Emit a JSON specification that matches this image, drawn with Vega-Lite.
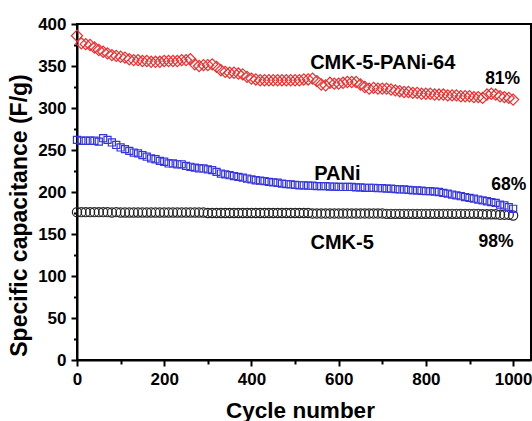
{
  "$schema": "https://vega.github.io/schema/vega-lite/v6.json",
  "width": 454,
  "height": 336,
  "autosize": "none",
  "padding": {"left": 77, "top": 24, "right": 1, "bottom": 61},
  "background": "white",
  "config": {
    "view": {"stroke": "black", "strokeWidth": 2},
    "font": "Liberation Sans",
    "axis": {"labelFont": "Liberation Sans", "titleFont": "Liberation Sans", "labelFontWeight": "bold", "titleFontWeight": "bold", "labelFontSize": 17, "titleFontSize": 22.5, "labelColor": "black", "titleColor": "black", "domainColor": "black", "domainWidth": 2, "tickColor": "black", "tickWidth": 2, "grid": false}
  },
  "datasets": {
    "cmk5pani": [
      {"c":0,"v":386},{"c":10,"v":377},{"c":20,"v":376},{"c":30,"v":375},{"c":40,"v":372},{"c":50,"v":369},{"c":60,"v":367},{"c":70,"v":365},{"c":80,"v":363},{"c":90,"v":362},
      {"c":100,"v":361},{"c":110,"v":360},{"c":120,"v":358},{"c":130,"v":357},{"c":140,"v":357},{"c":150,"v":356},{"c":160,"v":356},{"c":170,"v":355},{"c":180,"v":355},{"c":190,"v":355},
      {"c":200,"v":356},{"c":210,"v":356},{"c":220,"v":356},{"c":230,"v":356},{"c":240,"v":357},{"c":250,"v":357},{"c":260,"v":358},{"c":270,"v":352},{"c":280,"v":350},{"c":290,"v":351},
      {"c":300,"v":351},{"c":310,"v":352},{"c":320,"v":349},{"c":330,"v":345},{"c":340,"v":343},{"c":350,"v":342},{"c":360,"v":342},{"c":370,"v":341},{"c":380,"v":340},{"c":390,"v":337},
      {"c":400,"v":335},{"c":410,"v":334},{"c":420,"v":333},{"c":430,"v":333},{"c":440,"v":333},{"c":450,"v":333},{"c":460,"v":333},{"c":470,"v":333},{"c":480,"v":333},{"c":490,"v":333},
      {"c":500,"v":333},{"c":510,"v":333},{"c":520,"v":334},{"c":530,"v":334},{"c":540,"v":335},{"c":550,"v":332},{"c":560,"v":328},{"c":570,"v":327},{"c":580,"v":330},{"c":590,"v":329},
      {"c":600,"v":329},{"c":610,"v":330},{"c":620,"v":331},{"c":630,"v":331},{"c":640,"v":331},{"c":650,"v":328},{"c":660,"v":325},{"c":670,"v":323},{"c":680,"v":324},{"c":690,"v":323},
      {"c":700,"v":323},{"c":710,"v":323},{"c":720,"v":322},{"c":730,"v":321},{"c":740,"v":320},{"c":750,"v":319},{"c":760,"v":319},{"c":770,"v":318},{"c":780,"v":318},{"c":790,"v":317},
      {"c":800,"v":317},{"c":810,"v":317},{"c":820,"v":316},{"c":830,"v":316},{"c":840,"v":316},{"c":850,"v":315},{"c":860,"v":315},{"c":870,"v":315},{"c":880,"v":314},{"c":890,"v":314},
      {"c":900,"v":314},{"c":910,"v":313},{"c":920,"v":313},{"c":930,"v":312},{"c":940,"v":316},{"c":950,"v":317},{"c":960,"v":316},{"c":970,"v":314},{"c":980,"v":313},{"c":990,"v":312},
      {"c":1000,"v":310}
    ],
    "pani": [
      {"c":0,"v":262},{"c":10,"v":261},{"c":20,"v":261},{"c":30,"v":261},{"c":40,"v":261},{"c":50,"v":260},{"c":60,"v":264},{"c":70,"v":262},{"c":80,"v":259},{"c":90,"v":256},
      {"c":100,"v":253},{"c":110,"v":251},{"c":120,"v":249},{"c":130,"v":247},{"c":140,"v":246},{"c":150,"v":244},{"c":160,"v":242},{"c":170,"v":240},{"c":180,"v":239},{"c":190,"v":237},
      {"c":200,"v":236},{"c":210,"v":234},{"c":220,"v":234},{"c":230,"v":233},{"c":240,"v":233},{"c":250,"v":231},{"c":260,"v":230},{"c":270,"v":229},{"c":280,"v":228},{"c":290,"v":228},
      {"c":300,"v":227},{"c":310,"v":226},{"c":320,"v":224},{"c":330,"v":222},{"c":340,"v":221},{"c":350,"v":220},{"c":360,"v":219},{"c":370,"v":218},{"c":380,"v":217},{"c":390,"v":216},
      {"c":400,"v":215},{"c":410,"v":214},{"c":420,"v":213.5},{"c":430,"v":213},{"c":440,"v":212},{"c":450,"v":211.5},{"c":460,"v":211},{"c":470,"v":210},{"c":480,"v":209.5},{"c":490,"v":209},
      {"c":500,"v":208.5},{"c":510,"v":208},{"c":520,"v":208},{"c":530,"v":207.5},{"c":540,"v":207.5},{"c":550,"v":207},{"c":560,"v":207},{"c":570,"v":207},{"c":580,"v":206.5},{"c":590,"v":206.5},
      {"c":600,"v":206},{"c":610,"v":206},{"c":620,"v":206},{"c":630,"v":206},{"c":640,"v":205.5},{"c":650,"v":205.5},{"c":660,"v":205},{"c":670,"v":205},{"c":680,"v":205},{"c":690,"v":204.5},
      {"c":700,"v":204.5},{"c":710,"v":204},{"c":720,"v":204},{"c":730,"v":203.5},{"c":740,"v":203},{"c":750,"v":203},{"c":760,"v":202.5},{"c":770,"v":202},{"c":780,"v":202},{"c":790,"v":201.5},
      {"c":800,"v":201},{"c":810,"v":201},{"c":820,"v":200.5},{"c":830,"v":200},{"c":840,"v":199},{"c":850,"v":198},{"c":860,"v":197},{"c":870,"v":196},{"c":880,"v":195},{"c":890,"v":194},
      {"c":900,"v":193},{"c":910,"v":192},{"c":920,"v":191},{"c":930,"v":190},{"c":940,"v":189},{"c":950,"v":188},{"c":960,"v":187},{"c":970,"v":185},{"c":980,"v":184},{"c":990,"v":182},
      {"c":1000,"v":180}
    ],
    "cmk5": [
      {"c":0,"v":176},{"c":10,"v":176},{"c":20,"v":176},{"c":30,"v":176},{"c":40,"v":176},{"c":50,"v":176},{"c":60,"v":176},{"c":70,"v":176},{"c":80,"v":175.5},{"c":90,"v":176},
      {"c":100,"v":175.5},{"c":110,"v":175.5},{"c":120,"v":175.5},{"c":130,"v":175.5},{"c":140,"v":175.5},{"c":150,"v":175.5},{"c":160,"v":175.5},{"c":170,"v":175.5},{"c":180,"v":175.5},{"c":190,"v":175.5},
      {"c":200,"v":175.5},{"c":210,"v":175.5},{"c":220,"v":175.5},{"c":230,"v":175.5},{"c":240,"v":175.5},{"c":250,"v":175.5},{"c":260,"v":175.5},{"c":270,"v":175.5},{"c":280,"v":175.5},{"c":290,"v":175.5},
      {"c":300,"v":175},{"c":310,"v":175},{"c":320,"v":175},{"c":330,"v":175},{"c":340,"v":175},{"c":350,"v":175},{"c":360,"v":175},{"c":370,"v":175},{"c":380,"v":175},{"c":390,"v":175},
      {"c":400,"v":175},{"c":410,"v":175},{"c":420,"v":175},{"c":430,"v":175},{"c":440,"v":175},{"c":450,"v":175},{"c":460,"v":175},{"c":470,"v":175},{"c":480,"v":175},{"c":490,"v":175},
      {"c":500,"v":175},{"c":510,"v":175},{"c":520,"v":175},{"c":530,"v":175},{"c":540,"v":174.5},{"c":550,"v":174.5},{"c":560,"v":174.5},{"c":570,"v":174.5},{"c":580,"v":174.5},{"c":590,"v":174.5},
      {"c":600,"v":174.5},{"c":610,"v":174.5},{"c":620,"v":174.5},{"c":630,"v":174.5},{"c":640,"v":174.5},{"c":650,"v":174.5},{"c":660,"v":174.5},{"c":670,"v":174.5},{"c":680,"v":174.5},{"c":690,"v":174.5},
      {"c":700,"v":174.5},{"c":710,"v":174},{"c":720,"v":174},{"c":730,"v":174},{"c":740,"v":174},{"c":750,"v":174},{"c":760,"v":174},{"c":770,"v":174},{"c":780,"v":174},{"c":790,"v":174},
      {"c":800,"v":174},{"c":810,"v":174},{"c":820,"v":174},{"c":830,"v":174},{"c":840,"v":174},{"c":850,"v":174},{"c":860,"v":174},{"c":870,"v":174},{"c":880,"v":174},{"c":890,"v":174},
      {"c":900,"v":174},{"c":910,"v":174},{"c":920,"v":174},{"c":930,"v":173.5},{"c":940,"v":173.5},{"c":950,"v":173.5},{"c":960,"v":173.5},{"c":970,"v":173},{"c":980,"v":173},{"c":990,"v":173},
      {"c":1000,"v":172}
    ],
    "names": [
      {"c":701,"v":354,"t":"CMK-5-PANi-64"},
      {"c":597,"v":222,"t":"PANi"},
      {"c":608,"v":139,"t":"CMK-5"}
    ],
    "pcts": [
      {"c":976,"v":335,"t":"81%"},
      {"c":990,"v":208,"t":"68%"},
      {"c":961,"v":140,"t":"98%"}
    ]
  },
  "encoding": {
    "x": {"field": "c", "type": "quantitative", "scale": {"domain": [0, 1041], "nice": false, "zero": false},
      "axis": {"title": "Cycle number", "values": [0,100,200,300,400,500,600,700,800,900,1000], "format": "d",
        "labelExpr": "datum.value % 200 === 0 ? datum.label : ''",
        "tickSize": {"condition": {"test": "datum.value % 200 === 0", "value": 6}, "value": 4},
        "labelPadding": 5, "labelFlush": false, "labelOverlap": false,
        "titleX": 223, "titleY": 57, "titleBaseline": "alphabetic"}},
    "y": {"field": "v", "type": "quantitative", "scale": {"domain": [0, 400], "nice": false},
      "axis": {"title": "Specific capacitance (F/g)", "values": [0,25,50,75,100,125,150,175,200,225,250,275,300,325,350,375,400], "format": "d",
        "labelExpr": "datum.value % 50 === 0 ? datum.label : ''",
        "tickSize": {"condition": {"test": "datum.value % 50 === 0", "value": 6}, "value": 3.5},
        "labelPadding": 5, "labelFlush": false, "labelOverlap": false,
        "titleFontSize": 23, "titleX": -51, "titleY": 191, "titleAlign": "center", "titleBaseline": "alphabetic"}}
  },
  "layer": [
    {"data": {"name": "cmk5"}, "mark": {"type": "point", "shape": "circle", "size": 85, "filled": false, "stroke": "#222222", "strokeWidth": 1.2, "opacity": 1}},
    {"data": {"name": "pani"}, "mark": {"type": "point", "shape": "square", "size": 50, "filled": false, "stroke": "#3535e0", "strokeWidth": 1.2, "opacity": 1}},
    {"data": {"name": "cmk5pani"}, "mark": {"type": "point", "shape": "diamond", "size": 125, "filled": false, "stroke": "#ee2e2e", "strokeWidth": 1.2, "opacity": 1}},
    {"data": {"name": "names"}, "mark": {"type": "text", "font": "Liberation Sans", "fontWeight": "bold", "fontSize": 20, "color": "black", "baseline": "middle", "align": "center"}, "encoding": {"text": {"field": "t"}}},
    {"data": {"name": "pcts"}, "mark": {"type": "text", "font": "Liberation Sans", "fontWeight": "bold", "fontSize": 17.5, "color": "black", "baseline": "middle", "align": "center"}, "encoding": {"text": {"field": "t"}}}
  ]
}
